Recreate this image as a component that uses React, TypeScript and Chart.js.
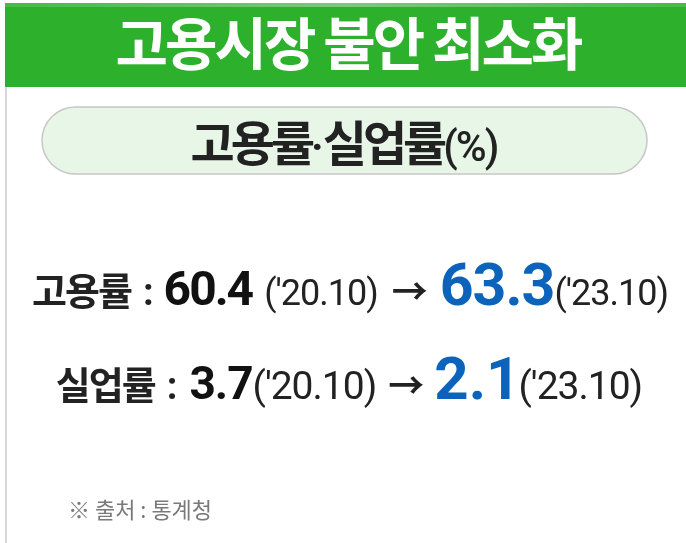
import React, { useEffect, useRef } from "react";
import { Chart, registerables } from "chart.js";

Chart.register(...registerables);

const TITLE = "고용시장 불안 최소화";
const SUBTITLE_A = "고용률";
const SUBTITLE_DOT = "·";
const SUBTITLE_B = "실업률";
const UNIT = "(%)";
const rateNames = ["고용률", "실업률"];
const values2020 = ["60.4", "3.7"];
const values2023 = ["63.3", "2.1"];
const periodFrom = "'20.10";
const periodTo = "'23.10";
const SOURCE = "※ 출처 : 통계청";

const KR = '"Noto Sans CJK KR", "Noto Sans", sans-serif';
const NUM = 'Roboto, "Noto Sans CJK KR", sans-serif';

type Seg = { text: string; font: string; color: string; ls?: number; gap?: number };

function drawRun(ctx: CanvasRenderingContext2D, segs: Seg[], cx: number, y: number) {
  const widths = segs.map((s) => {
    ctx.font = s.font;
    (ctx as any).letterSpacing = (s.ls ?? 0) + "px";
    return ctx.measureText(s.text).width + (s.gap ?? 0);
  });
  const total = widths.reduce((a, b) => a + b, 0);
  let x = cx - total / 2;
  ctx.textAlign = "left";
  ctx.textBaseline = "alphabetic";
  segs.forEach((s, i) => {
    ctx.font = s.font;
    (ctx as any).letterSpacing = (s.ls ?? 0) + "px";
    ctx.fillStyle = s.color;
    ctx.fillText(s.text, x, y);
    x += widths[i];
  });
  (ctx as any).letterSpacing = "0px";
}

const infographicPlugin = {
  id: "infographic",
  afterDraw(chart: any) {
    const ctx: CanvasRenderingContext2D = chart.ctx;
    const W = chart.width;
    const H = chart.height;
    ctx.save();
    // banner
    ctx.fillStyle = "#2db12d";
    ctx.fillRect(5, 3, W - 5, 84);
    const g = ctx.createLinearGradient(5, 0, W, 0);
    g.addColorStop(0, "rgba(255,255,255,0.12)");
    g.addColorStop(0.5, "rgba(255,255,255,0.35)");
    g.addColorStop(1, "rgba(255,255,255,0.12)");
    ctx.fillStyle = g;
    ctx.fillRect(5, 3, W - 5, 4);
    // left border line
    ctx.fillStyle = "#d9d9d9";
    ctx.fillRect(5, 87, 2, H - 87);

    // title
    drawRun(ctx, [{ text: TITLE, font: `bold 57px ${KR}`, color: "#ffffff", ls: -3 }], 348, 65);

    // pill
    const px = 42, py = 107, pw = 605, ph = 67, r = ph / 2;
    ctx.beginPath();
    ctx.moveTo(px + r, py);
    ctx.lineTo(px + pw - r, py);
    ctx.arc(px + pw - r, py + r, r, -Math.PI / 2, Math.PI / 2);
    ctx.lineTo(px + r, py + ph);
    ctx.arc(px + r, py + r, r, Math.PI / 2, (3 * Math.PI) / 2);
    ctx.closePath();
    ctx.fillStyle = "#e8f6e8";
    ctx.fill();
    ctx.lineWidth = 1.5;
    ctx.strokeStyle = "#c6c6c6";
    ctx.stroke();

    drawRun(
      ctx,
      [
        { text: SUBTITLE_A, font: `bold 48px ${KR}`, color: "#222222", ls: -4 },
        { text: SUBTITLE_DOT, font: `bold 42px ${NUM}`, color: "#222222", gap: -1 },
        { text: SUBTITLE_B, font: `bold 48px ${KR}`, color: "#222222", ls: -4 },
        { text: UNIT, font: `500 42px ${NUM}`, color: "#222222", ls: -2 },
      ],
      344,
      161
    );

    const dark = "#222222";
    const black = "#111111";
    const blue = "#0b63bb";
    // line 1
    drawRun(
      ctx,
      [
        { text: rateNames[0], font: `bold 38px ${KR}`, color: dark, ls: -2, gap: 12 },
        { text: ":", font: `bold 38px ${NUM}`, color: dark, gap: 10 },
        { text: values2020[0], font: `bold 48px ${NUM}`, color: black, ls: -2, gap: 12 },
        { text: "(" + periodFrom + ")", font: `36px ${NUM}`, color: dark, ls: -1, gap: 14 },
        { text: "→", font: `bold 36px ${NUM}`, color: dark, gap: 12 },
        { text: values2023[0], font: `bold 59px ${NUM}`, color: blue, ls: -1 },
        { text: "(" + periodTo + ")", font: `36px ${NUM}`, color: dark, ls: -1 },
      ],
      350,
      305
    );
    // line 2
    drawRun(
      ctx,
      [
        { text: rateNames[1], font: `bold 38px ${KR}`, color: dark, ls: -2, gap: 12 },
        { text: ":", font: `bold 38px ${NUM}`, color: dark, gap: 12 },
        { text: values2020[1], font: `bold 46px ${NUM}`, color: black, ls: -1 },
        { text: "(" + periodFrom + ")", font: `39px ${NUM}`, color: dark, ls: -1, gap: 12 },
        { text: "→", font: `bold 36px ${NUM}`, color: dark, gap: 10 },
        { text: values2023[1], font: `bold 60px ${NUM}`, color: blue, ls: 0, gap: -2 },
        { text: "(" + periodTo + ")", font: `39px ${NUM}`, color: dark, ls: -1 },
      ],
      349,
      399
    );

    // source
    ctx.font = `22px ${KR}`;
    (ctx as any).letterSpacing = "0px";
    ctx.fillStyle = "#7a7a7a";
    ctx.textAlign = "left";
    ctx.textBaseline = "alphabetic";
    ctx.fillText(SOURCE, 68, 518);
    ctx.restore();
  },
};

export default function App() {
  const ref = useRef<HTMLCanvasElement | null>(null);
  useEffect(() => {
    document.body.style.margin = "0";
    const chart = new Chart(ref.current as HTMLCanvasElement, {
      type: "bar",
      data: { labels: rateNames, datasets: [] },
      options: {
        animation: false,
        responsive: false,
        devicePixelRatio: 1,
        plugins: { legend: { display: false }, tooltip: { enabled: false }, title: { display: false } },
        scales: { x: { display: false }, y: { display: false } },
      },
      plugins: [infographicPlugin],
    });
    return () => chart.destroy();
  }, []);
  return (
    <div style={{ width: 686, height: 543, background: "#fff" }}>
      <canvas ref={ref} width={686} height={543} style={{ display: "block" }} />
    </div>
  );
}
